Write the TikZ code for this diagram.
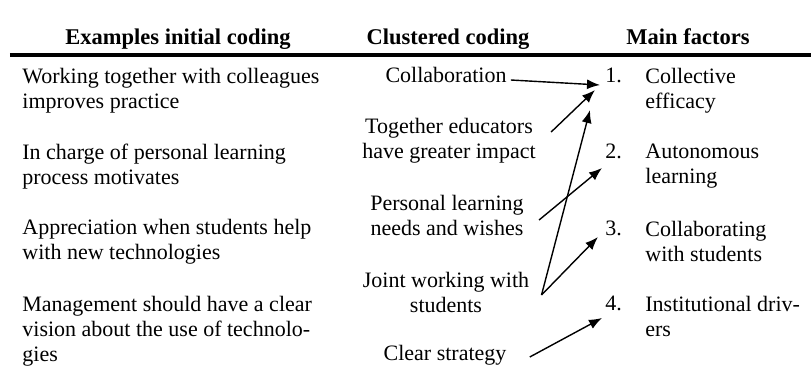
\documentclass[tikz,border=0pt]{standalone}
\usepackage{fontspec}
\setmainfont{Liberation Serif}
\usetikzlibrary{arrows.meta}

\begin{document}
\begin{tikzpicture}[
	x=0.5pt, y=-0.5pt,
	font=\fontsize{11}{12.5}\selectfont,
	head/.style={anchor=base, inner sep=0pt, font=\fontsize{11.25}{13}\selectfont\bfseries},
	code/.style={anchor=north west, align=left, inner sep=0pt},
	cluster/.style={align=center, inner sep=0pt},
	factor/.style={anchor=north west, align=left, inner sep=0pt},
	num/.style={anchor=base west, inner sep=0pt},
	link/.style={-{Latex[length=6.5pt, width=5pt]}, line width=0.7pt}
	]
	\useasboundingbox (0, 0) rectangle (811, 387);

	\node [head] (hcode) at (178, 44) {Examples initial coding};
	\node [head] (hcluster) at (448, 44) {Clustered coding};
	\node [head] (hfactor) at (688, 44) {Main factors};
	\draw [line width=2pt] (10, 55) -- (811, 55);

	\node [code] (c1) at (22, 68) {Working together with colleagues\\improves practice};
	\node [code] (c2) at (22, 144) {In charge of personal learning\\process motivates};
	\node [code] (c3) at (22, 219) {Appreciation when students help\\with new technologies};
	\node [code] (c4) at (22, 296) {Management should have a clear\\vision about the use of technolo-\\gies};

	\node [cluster] (collab) at (446, 75) {Collaboration};
	\node [cluster] (together) at (449, 140.5) {Together educators\\have greater impact};
	\node [cluster] (personal) at (447, 215.5) {Personal learning\\needs and wishes};
	\node [cluster] (joint) at (446, 292.5) {Joint working with\\students};
	\node [cluster] (strategy) at (445, 355) {Clear strategy};

	\node [num] (n1) at (605, 82) {1.};
	\node [num] (n2) at (605, 158) {2.};
	\node [num] (n3) at (605, 235) {3.};
	\node [num] (n4) at (605, 310) {4.};
	\node [factor] (f1) at (645, 68) {Collective\\efficacy};
	\node [factor] (f2) at (645, 144) {Autonomous\\learning};
	\node [factor] (f3) at (645, 221) {Collaborating\\with students};
	\node [factor] (f4) at (645, 296) {Institutional driv-\\ers};

	% clusters to factors
	\draw [link] ([shift={(4, 5)}]collab.east) -- ([shift={(-5, 3)}]n1.base west);
	\draw [link] ([shift={(15, -8.5)}]together.east) -- ([shift={(-10, 8)}]n1.base west);
	\draw [link] ([shift={(12, 2.5)}]joint.east) -- ([shift={(-15, 28)}]n1.base west);
	\draw [link] ([shift={(15, 4.5)}]personal.east) -- ([shift={(-3, 10)}]n2.base west);
	\draw [link] ([shift={(12, 2.5)}]joint.east) -- ([shift={(-7, 2)}]n3.base west);
	\draw [link] ([shift={(23, 2)}]strategy.east) -- ([shift={(-3, 8)}]n4.base west);
\end{tikzpicture}
\end{document}
